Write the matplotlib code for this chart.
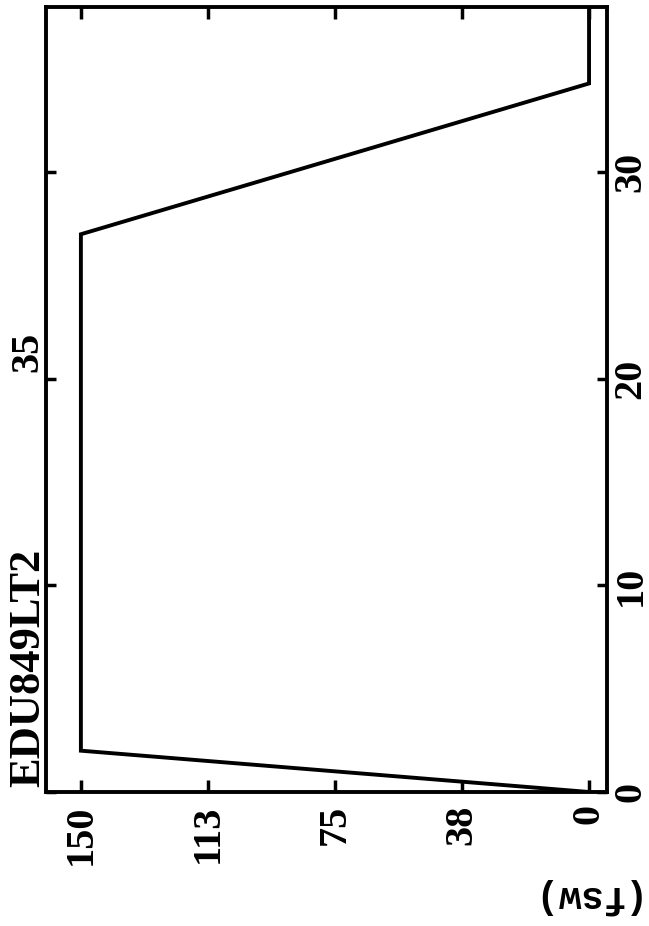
import matplotlib
matplotlib.use("Agg")
import matplotlib.pyplot as plt

# Data (dive profile: time in minutes, depth in fsw)
time_min = [0, 2, 27, 34.3, 38]
depth_fsw = [0, 150, 150, 0, 0]

depth_ticks = [0, 37.5, 75, 112.5, 150]
depth_tick_labels = ["0", "38", "75", "113", "150"]
time_ticks = [0, 10, 20, 30]
time_tick_labels = ["0", "10", "20", "30"]

title_text = "EDU849LT2"
subtitle_text = "35"
unit_text = "(fsw)"

W, H = 649, 926
fig = plt.figure(figsize=(W / 100, H / 100), dpi=100)
ax = fig.add_axes([46 / W, 1 - 792 / H, (607 - 46) / W, (792 - 7) / H])

lw = 2.8
ax.plot(depth_fsw, time_min, color="black", lw=lw, solid_joinstyle="miter")

ax.set_xlim(160.3, -5.3)
ax.set_ylim(0, 38)

for s in ax.spines.values():
    s.set_linewidth(lw)

font = dict(family="Liberation Serif", weight="bold", size=29)

ax.set_xticks(depth_ticks)
ax.set_xticklabels(depth_tick_labels, rotation=90, **font)
ax.set_yticks(time_ticks)
ax.set_yticklabels(time_tick_labels, rotation=90, va="center", **font)

ax.tick_params(axis="x", direction="in", length=8.5, width=2.5, top=True,
               bottom=True, pad=9)
ax.tick_params(axis="y", direction="in", length=7, width=2.5, left=True,
               right=True, labelleft=False, labelright=True, pad=4)

fig.text(28 / W, 1 - 787 / H, title_text, rotation=90, ha="center",
         va="bottom", family="Liberation Serif", weight="bold", size=32)
fig.text(28 / W, 1 - 372 / H, subtitle_text, rotation=90, ha="center",
         va="bottom", **font)
fig.text(580 / W, 1 - 896 / H, unit_text, rotation=180, ha="center",
         va="center", family="Liberation Mono", weight="bold", size=27)

fig.savefig("out.png", dpi=100, facecolor="white")
